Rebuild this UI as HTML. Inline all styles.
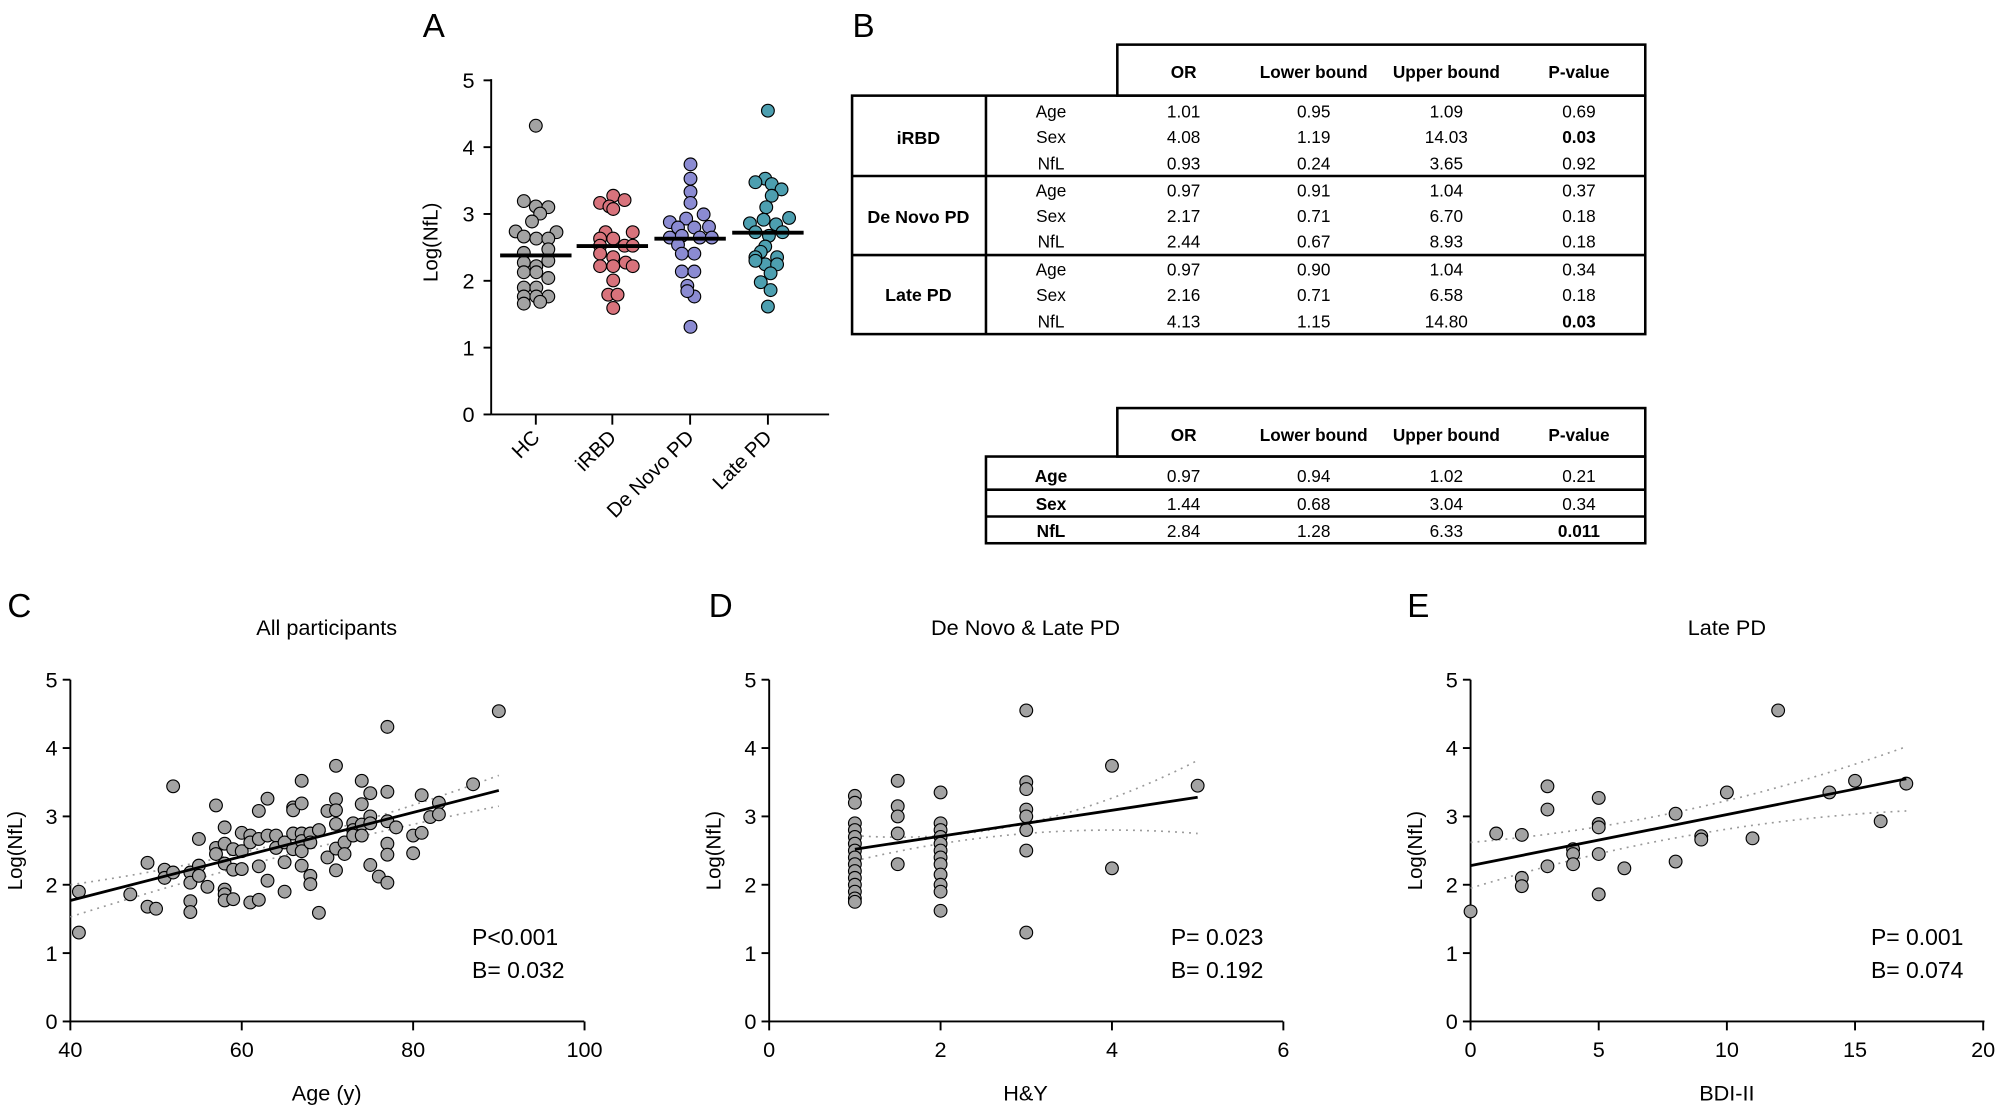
<!DOCTYPE html>
<html><head><meta charset="utf-8"><style>
html,body{margin:0;padding:0;background:#fff;}
svg{display:block;font-family:"Liberation Sans",sans-serif;}
</style></head><body>
<svg id="s" width="2000" height="1112" viewBox="0 0 1568 872" xmlns="http://www.w3.org/2000/svg">
<rect width="1568" height="872" fill="#fff"/>
<g id="g"></g>
</svg>
<script>
var NS="http://www.w3.org/2000/svg",G=document.getElementById('g'),out='';
function t(x,y,s,sz,anc,extra){out+='<text x="'+x+'" y="'+y+'" font-size="'+sz+'" text-anchor="'+(anc||'middle')+'" '+(extra||'')+'>'+s+'</text>';}
function L(x1,y1,x2,y2,w,ex){out+='<line x1="'+x1+'" y1="'+y1+'" x2="'+x2+'" y2="'+y2+'" stroke="#000" stroke-width="'+(w||1.5)+'" '+(ex||'')+'/>';}
function C(x,y,f){out+='<circle cx="'+x.toFixed(1)+'" cy="'+y.toFixed(1)+'" r="5" fill="'+f+'" stroke="#000" stroke-width="0.9"/>';}
// ---------- Panel A
t(340,29,'A',26);
var y0=325,yu=52.4;
L(385,62,385,325);L(385,325,650,325);
for(var i=0;i<=5;i++){var yy=y0-i*yu;L(379,yy,385,yy);t(372,yy+6,i,17,'end');}
t(0,0,'Log(NfL)',16,'middle','transform="translate(343,190) rotate(-90)"');
var cats=[420,480,541,602],nm=['HC','iRBD','De Novo PD','Late PD'];
cats.forEach(function(cx,i){L(cx,325,cx,333);t(0,0,nm[i],16,'end','transform="translate('+(cx+4)+',344) rotate(-45)"');});
var A=[
[[987,352],[965,563],[987,578],[1010,580],[995,598],[980,620],[950,648],[1025,650],[965,662],[988,668],[1010,668],[965,708],[1010,698],[1010,730],[965,735],[988,745],[965,762],[1010,778],[988,762],[965,805],[988,805],[1010,830],[965,830],[988,830],[965,850],[995,845]],
[[1105,568],[1129,548],[1150,560],[1122,578],[1129,585],[1115,650],[1165,650],[1105,668],[1129,668],[1105,688],[1150,688],[1165,688],[1105,710],[1129,720],[1152,735],[1105,745],[1129,745],[1165,745],[1129,785],[1120,825],[1137,825],[1129,862]],
[[1271,460],[1271,500],[1271,537],[1271,568],[1295,600],[1233,622],[1263,612],[1248,637],[1278,637],[1305,635],[1233,665],[1255,660],[1288,665],[1310,665],[1248,685],[1278,710],[1255,710],[1255,760],[1278,760],[1265,800],[1278,830],[1265,815],[1271,915]],
[[1413,310],[1408,500],[1390,510],[1420,515],[1438,530],[1420,548],[1410,580],[1380,625],[1405,615],[1428,628],[1452,610],[1390,650],[1440,650],[1415,660],[1408,690],[1400,705],[1390,720],[1430,720],[1408,740],[1390,730],[1430,740],[1418,765],[1400,790],[1418,812],[1413,858]]];
var cols=['#a3a3a3','#d8737c','#8b8bd2','#4d9fb0'],med=[2.38,2.52,2.63,2.72];
A.forEach(function(g,i){g.forEach(function(p){var v=(1160-p[1])/187;C(420+(p[0]-987)*0.4272,y0-v*yu,cols[i]);});
 var my=y0-med[i]*yu;L(cats[i]-28,my,cats[i]+28,my,3);});
// ---------- Panel B
t(677,29,'B',26);
function tbl(){}
out+='<g fill="none" stroke="#000" stroke-width="2">';
out+='<rect x="876" y="35" width="414" height="40"/><rect x="668" y="75" width="622" height="187"/>';
out+='<line x1="773" y1="75" x2="773" y2="262"/><line x1="668" y1="138" x2="1290" y2="138"/><line x1="668" y1="200" x2="1290" y2="200"/>';
out+='<rect x="876" y="320" width="414" height="38"/><rect x="773" y="358" width="517" height="68"/>';
out+='<line x1="773" y1="384" x2="1290" y2="384"/><line x1="773" y1="405" x2="1290" y2="405"/></g>';
var hx=[928,1030,1134,1238],hd=['OR','Lower bound','Upper bound','P-value'];
hd.forEach(function(h,i){t(hx[i],61,h,13.5,'middle','font-weight="bold"');t(hx[i],346,h,13.5,'middle','font-weight="bold"');});
var rows=[['1.01','0.95','1.09','0.69'],['4.08','1.19','14.03','0.03'],['0.93','0.24','3.65','0.92'],
['0.97','0.91','1.04','0.37'],['2.17','0.71','6.70','0.18'],['2.44','0.67','8.93','0.18'],
['0.97','0.90','1.04','0.34'],['2.16','0.71','6.58','0.18'],['4.13','1.15','14.80','0.03']];
var ry=[92,112,133,154,174,194,216,236,257],lab=['Age','Sex','NfL'];
rows.forEach(function(r,k){t(824,ry[k],lab[k%3],13.5);r.forEach(function(v,i){t(hx[i],ry[k],v,13.5,'middle',(i==3&&(k==1||k==8))?'font-weight="bold"':'');});});
t(720,113,'iRBD',14,'middle','font-weight="bold"');t(720,175,'De Novo PD',14,'middle','font-weight="bold"');t(720,236,'Late PD',14,'middle','font-weight="bold"');
var r2=[['0.97','0.94','1.02','0.21'],['1.44','0.68','3.04','0.34'],['2.84','1.28','6.33','0.011']],ry2=[378,400,421];
r2.forEach(function(r,k){t(824,ry2[k],lab[k],13.5,'middle','font-weight="bold"');r.forEach(function(v,i){t(hx[i],ry2[k],v,13.5,'middle',(i==3&&k==2)?'font-weight="bold"':'');});});
// ---------- scatter panels
var Y0=801,YU=53.6;
function panel(o){
 var ax=o.ax,x1=o.ax+403;
 t(o.lx,484,o.L,26);t(ax+201,498,o.title,17);
 L(ax,533,ax,Y0);L(ax,Y0,x1,Y0);
 for(var i=0;i<=5;i++){var yy=Y0-i*YU;L(ax-6,yy,ax,yy);t(ax-10,yy+6,i,17,'end');}
 o.xt.forEach(function(v){var xx=ax+(v-o.xmin)*o.xs;L(xx,Y0,xx,Y0+7);t(xx,Y0+28,v,17);});
 t(ax+201,863,o.xl,17);
 t(0,0,'Log(NfL)',16,'middle','transform="translate('+(ax-38)+',667) rotate(-90)"');
 function X(v){return ax+(v-o.xmin)*o.xs;} function Yv(v){return Y0-v*YU;}
 // CI
 [o.ci[0],o.ci[1]].forEach(function(c){var xm=(o.r[0]+o.r[1])/2;var cm=c[2];
  out+='<path d="M'+X(o.r[0])+' '+Yv(c[0])+' Q'+X(xm)+' '+Yv(2*cm-(c[0]+c[1])/2)+' '+X(o.r[1])+' '+Yv(c[1])+'" fill="none" stroke="#999" stroke-width="1.3" stroke-dasharray="1.5,4"/>';});
 o.pts.forEach(function(p){C(X(p[0]),Yv(p[1]),'#a3a3a3');});
 L(X(o.r[0]),Yv(o.l[0]),X(o.r[1]),Yv(o.l[1]),2.2);
 t(o.px,741,o.p,18,'start');t(o.px,767,o.b,18,'start');
}
var cp=[[41,1.9],[41,1.3],[47,1.86],[49,2.32],[49,1.68],[50,1.65],[51,2.22],[51,2.1],[52,2.18],[52,3.44],[54,2.18],[54,2.03],[54,1.76],[54,1.6],[55,2.67],[55,2.28],[55,2.13],[56,1.97],[57,3.16],[57,2.54],[57,2.45],[58,2.84],[58,2.6],[58,2.31],[58,1.93],[58,1.86],[58,1.77],[59,2.52],[59,2.22],[59,1.79],[60,2.76],[60,2.49],[60,2.23],[61,2.72],[61,2.62],[61,1.74],[62,3.08],[62,2.67],[62,2.27],[62,1.78],[63,3.26],[63,2.72],[63,2.06],[64,2.72],[64,2.54],[65,2.62],[65,2.33],[65,1.9],[66,3.13],[66,3.09],[66,2.75],[66,2.52],[67,3.52],[67,3.19],[67,2.75],[67,2.64],[67,2.49],[67,2.28],[68,2.75],[68,2.62],[68,2.13],[68,2.01],[69,2.8],[69,1.59],[70,3.08],[70,2.4],[71,3.74],[71,3.25],[71,3.09],[71,2.89],[71,2.53],[71,2.21],[72,2.62],[72,2.45],[73,2.9],[73,2.8],[73,2.72],[74,3.52],[74,3.18],[74,2.88],[74,2.72],[75,3.34],[75,3.0],[75,2.9],[75,2.29],[76,2.12],[77,4.31],[77,3.36],[77,2.93],[77,2.6],[77,2.44],[77,2.03],[78,2.84],[80,2.72],[80,2.46],[81,3.31],[81,2.76],[82,2.99],[83,3.2],[83,3.03],[87,3.47],[90,4.54]];
panel({L:'C',lx:15,ax:55,title:'All participants',xmin:40,xs:6.72,xt:[40,60,80,100],xl:'Age (y)',pts:cp,r:[40,90],l:[1.77,3.38],ci:[[2.0,3.6,2.62],[1.53,3.15,2.43]],px:370,p:'P&lt;0.001',b:'B= 0.032'});
var dp=[];[3.3,3.2,2.9,2.8,2.7,2.6,2.5,2.4,2.3,2.2,2.1,2.0,1.9,1.8,1.75].forEach(function(v){dp.push([1,v]);});
[3.52,3.15,3.0,2.75,2.3].forEach(function(v){dp.push([1.5,v]);});
[3.35,2.9,2.8,2.7,2.6,2.5,2.4,2.3,2.15,2.0,1.9,1.62].forEach(function(v){dp.push([2,v]);});
[4.55,3.5,3.4,3.1,3.0,2.8,2.5,1.3].forEach(function(v){dp.push([3,v]);});
dp.push([4,3.74],[4,2.24],[5,3.45]);
panel({L:'D',lx:565,ax:603,title:'De Novo &amp; Late PD',xmin:0,xs:67.2,xt:[0,2,4,6],xl:'H&amp;Y',pts:dp,r:[1,5],l:[2.52,3.28],ci:[[2.72,3.82,2.9],[2.35,2.75,2.75]],px:918,p:'P= 0.023',b:'B= 0.192'});
var ep=[[0,1.61],[1,2.75],[2,2.73],[2,2.1],[2,1.98],[3,3.44],[3,3.1],[3,2.27],[4,2.52],[4,2.45],[4,2.3],[5,3.27],[5,2.89],[5,2.84],[5,2.45],[5,1.86],[6,2.24],[8,3.04],[8,2.34],[9,2.71],[9,2.66],[10,3.35],[11,2.68],[12,4.55],[14,3.35],[15,3.52],[16,2.93],[17,3.48]];
panel({L:'E',lx:1112,ax:1153,title:'Late PD',xmin:0,xs:20.1,xt:[0,5,10,15,20],xl:'BDI-II',pts:ep,r:[0,17],l:[2.28,3.55],ci:[[2.62,4.02,3.1],[1.95,3.08,2.72]],px:1467,p:'P= 0.001',b:'B= 0.074'});
G.innerHTML=out;
</script>
</body></html>
